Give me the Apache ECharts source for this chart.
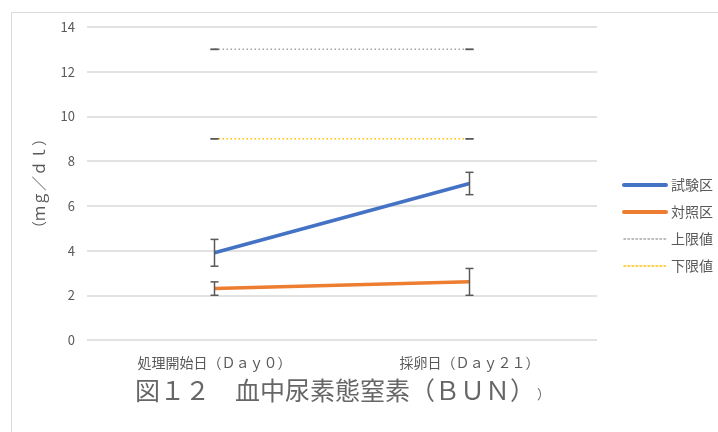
<!DOCTYPE html>
<html>
<head>
<meta charset="utf-8">
<script src="https://cdn.jsdelivr.net/npm/echarts@6/dist/echarts.min.js"></script>
<style>
  html, body { margin: 0; padding: 0; background: #fff; }
  #chart { width: 718px; height: 432px; }
</style>
</head>
<body>
<div id="chart"></div>
<script>
'use strict';

const categories = ['処理開始日（Ｄａｙ０）', '採卵日（Ｄａｙ２１）'];
const seriesNames = ['試験区', '対照区', '上限値', '下限値'];
const testValues = [3.9, 7.0];
const testErrors = [0.6, 0.5];
const controlValues = [2.3, 2.6];
const controlErrors = [0.3, 0.6];
const upperValues = [13, 13];
const lowerValues = [9, 9];
const limitErrors = [0, 0];

const textColor = '#595959';
const font = '"Noto Sans CJK JP", "Noto Sans", sans-serif';

/*
 * Error bars are drawn with a custom series so they follow the axes.
 */
const errorSeries = (values, errors) => ({
    type: 'custom',
    z: 5,
    silent: true,
    data: values.map((v, i) => [i, v, errors[i]]),
    renderItem: (params, api) => {
        const x = api.value(0);
        const v = api.value(1);
        const e = api.value(2);
        const top = api.coord([x, v + e]);
        const bottom = api.coord([x, v - e]);
        const half = 4;
        const style = { stroke: '#595959', lineWidth: 1.5 };
        return {
            type: 'group',
            children: [
                { type: 'line', shape: { x1: top[0], y1: top[1], x2: bottom[0], y2: bottom[1] }, style },
                { type: 'line', shape: { x1: top[0] - half, y1: top[1], x2: top[0] + half, y2: top[1] }, style },
                { type: 'line', shape: { x1: bottom[0] - half, y1: bottom[1], x2: bottom[0] + half, y2: bottom[1] }, style },
            ],
        };
    },
});

const lineSeries = (name, values, color, width, type) => ({
    name,
    type: 'line',
    data: values,
    symbol: 'none',
    z: 3,
    lineStyle: { color, width, type },
    itemStyle: { color },
});

// legend lines: solid ones are drawn thicker than the default 'auto' width
const legendWidths = [4, 4, 1.5, 1.5];

const chart = echarts.init(document.getElementById('chart'), null, { renderer: 'canvas' });

chart.setOption({
    animation: false,
    textStyle: { fontFamily: font },
    graphic: [{
        type: 'rect',
        left: 9,
        top: 10,
        shape: { width: 730, height: 440 },
        style: { fill: 'none', stroke: '#D9D9D9', lineWidth: 1 },
        z: -1,
    }],
    title: {
        text: '{a|図１２　血中尿素態窒素（ＢＵＮ）}{b|）}',
        left: 130,
        top: 373,
        textStyle: {
            fontWeight: 'normal',
            rich: {
                a: { fontSize: 25, color: '#666666', fontFamily: font, fontWeight: 'normal' },
                b: { fontSize: 13, color: '#666666', fontFamily: font, fontWeight: 'normal', padding: [8, 0, 0, 2] },
            },
        },
    },
    legend: {
        orient: 'vertical',
        left: 617,
        top: 173,
        itemWidth: 42,
        itemHeight: 14,
        itemGap: 13,
        data: seriesNames.map((name, i) => ({
            name,
            lineStyle: { width: legendWidths[i], cap: 'round' },
        })),
        itemStyle: { opacity: 0 },
        textStyle: { color: textColor, fontSize: 14, fontFamily: font },
    },
    grid: { left: 87, right: 121, top: 27, bottom: 92 },
    xAxis: {
        type: 'category',
        data: categories,
        axisLine: { show: false },
        axisTick: { show: false },
        axisLabel: { color: textColor, fontSize: 14, margin: 16, fontFamily: font },
    },
    yAxis: {
        type: 'value',
        min: 0,
        max: 14,
        interval: 2,
        name: '（ｍｇ／ｄｌ）',
        nameLocation: 'middle',
        nameGap: 40,
        nameRotate: 90,
        nameTextStyle: { color: textColor, fontSize: 15, fontFamily: font },
        axisLabel: { color: textColor, fontSize: 13, margin: 12 },
        splitLine: { lineStyle: { color: '#D9D9D9', width: 1.5 } },
    },
    series: [
        lineSeries('試験区', testValues, '#4472C4', 3.5, 'solid'),
        lineSeries('対照区', controlValues, '#ED7D31', 3.5, 'solid'),
        lineSeries('上限値', upperValues, '#A5A5A5', 1.5, [1.5, 2.5]),
        lineSeries('下限値', lowerValues, '#FFC000', 1.5, [1.5, 2.5]),
        errorSeries(testValues, testErrors),
        errorSeries(controlValues, controlErrors),
        errorSeries(upperValues, limitErrors),
        errorSeries(lowerValues, limitErrors),
    ],
});
</script>
</body>
</html>
